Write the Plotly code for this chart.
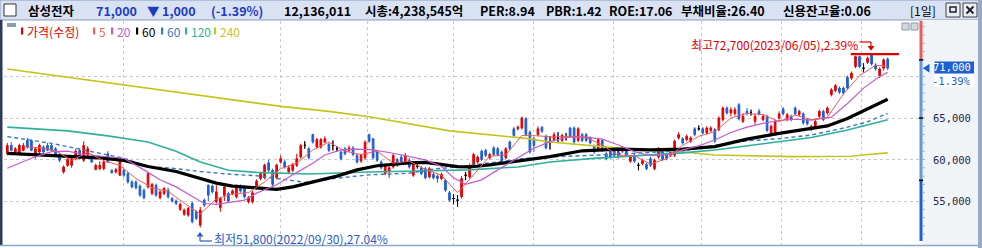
import plotly.graph_objects as go

# ---------------- data ----------------
open_ = [
    60700, 61700, 60900, 60700, 61100, 62300, 62300, 60700, 60900, 61500,
    61700, 61700, 61300, 60600, 58500, 59300, 59300, 60100, 61100, 59900,
    60500, 60300, 58800, 58900, 58900, 60700, 58700, 58500, 58100, 58700,
    58300, 57300, 57300, 56800, 56300, 56700, 55900, 56900, 55400, 55900,
    56300, 55300, 55000, 54000, 53400, 53300, 54700, 53700, 52100, 55100,
    56900, 56800, 54900, 54200, 55700, 55900, 55900, 55500, 56800, 56700,
    54900, 54900, 56600, 57700, 57800, 59600, 58700, 57800, 59700, 59700,
    58500, 58700, 59300, 60300, 61700, 61300, 63000, 61500, 61500, 62100,
    61800, 61700, 61300, 60900, 61300, 61100, 61400, 60500, 59800, 60200,
    63000, 62500, 60900, 59700, 58300, 58500, 59100, 60000, 60300, 59700,
    59900, 58100, 59200, 59000, 58900, 57900, 58200, 58000, 57700, 57500,
    56000, 55300, 55100, 55500, 58100, 57900, 59300, 59700, 61000, 61100,
    60200, 61400, 61300, 60900, 60200, 62100, 63700, 63700, 63800, 64900,
    63300, 62500, 63000, 63900, 62800, 62100, 62400, 62600, 62300, 62700,
    63800, 63800, 62300, 63000, 63000, 62600, 61600, 61300, 62300, 60700,
    61300, 61100, 61100, 61000, 61100, 59800, 60500, 59300, 59500, 59400,
    60100, 58900, 60300, 61100, 60600, 60500, 60500, 62600, 62500, 62400,
    62200, 63700, 63700, 63700, 63200, 63500, 63600, 63600, 64800, 66200,
    65600, 65500, 66600, 64600, 65800, 65600, 64600, 65800, 64800, 65200,
    63200, 63100, 65000, 66100, 64800, 65200, 66200, 65400, 65500, 64800,
    63600, 63900, 65200, 65800, 65600, 67800, 68300, 68600, 68600, 69900,
    69800, 71200, 72400, 71000, 71700, 72600, 71400, 70100, 71000, 72100,
]
high = [
    62000, 62100, 61500, 61900, 62000, 62600, 62400, 61500, 61900, 61700,
    62000, 62000, 61500, 60800, 59300, 60200, 60300, 61300, 61300, 62200,
    61600, 60500, 59500, 59800, 59900, 61000, 58800, 59000, 60100, 58900,
    58500, 57500, 57500, 57000, 56500, 58500, 57200, 57100, 56300, 56700,
    56600, 55500, 55200, 54800, 54100, 54300, 54900, 53900, 54300, 55300,
    57000, 57000, 56900, 55500, 56900, 56100, 56400, 57000, 57000, 56900,
    55600, 56200, 57600, 58500, 59500, 60000, 58900, 59500, 60500, 60000,
    59300, 59600, 60700, 61900, 62200, 61500, 63100, 62600, 62600, 62800,
    62000, 62300, 61600, 61100, 61500, 61700, 61600, 60700, 60700, 62300,
    63100, 62600, 61100, 59900, 59500, 59200, 60700, 60200, 60600, 60800,
    60200, 59700, 59600, 59200, 59100, 59100, 58400, 58200, 58400, 57700,
    56200, 55800, 55700, 58000, 58500, 59500, 60800, 60500, 61200, 61300,
    60800, 61600, 61500, 61100, 61500, 62300, 63900, 64100, 65200, 65100,
    63500, 62700, 64000, 64000, 63000, 62800, 63300, 63300, 63100, 63200,
    63900, 64000, 63900, 63200, 63200, 62800, 61800, 62600, 62500, 60900,
    61500, 61300, 61300, 61600, 61300, 60500, 60700, 59600, 60100, 59600,
    60300, 60100, 61500, 61300, 60800, 61300, 62400, 63300, 62700, 63000,
    62800, 63900, 64100, 63900, 64000, 64000, 63800, 65200, 66400, 66400,
    66300, 66300, 66800, 65600, 66200, 66000, 65500, 66100, 65500, 65400,
    64200, 64800, 65800, 66300, 65600, 65400, 66400, 66000, 65700, 65000,
    64200, 64800, 66000, 66000, 66400, 68600, 69100, 68800, 68800, 70100,
    70600, 72500, 72500, 71600, 72400, 72700, 71600, 71100, 72200, 72300,
]
low = [
    60500, 61000, 60700, 60500, 61000, 61300, 61000, 60100, 60700, 60800,
    61000, 61000, 60300, 59700, 58300, 59100, 59000, 59900, 60000, 59700,
    60300, 59600, 58700, 58700, 58700, 59600, 58300, 58300, 58000, 57900,
    57100, 56500, 56400, 55500, 55200, 56500, 55700, 55500, 55200, 55700,
    55300, 54800, 54500, 53800, 53200, 53100, 52300, 52700, 51800, 54300,
    55000, 55900, 54700, 53700, 55000, 54800, 55700, 55300, 56000, 55300,
    54700, 54700, 56400, 57500, 57600, 58500, 56800, 57600, 59500, 58900,
    58300, 58500, 59100, 60100, 61300, 60000, 61900, 61300, 61300, 62000,
    60900, 61100, 60900, 59900, 60500, 60900, 60400, 59500, 59600, 60000,
    62000, 60000, 59700, 58800, 58100, 57800, 58900, 59100, 59500, 59500,
    58900, 57900, 58900, 58100, 57600, 57700, 57600, 57200, 57500, 56100,
    54900, 54600, 54300, 55300, 57500, 57700, 59100, 59500, 59800, 60300,
    60000, 60400, 60400, 59500, 60000, 61100, 62700, 63500, 63600, 62800,
    60700, 60900, 62800, 63200, 61200, 61200, 62200, 62100, 62100, 62300,
    62600, 61900, 62100, 62100, 62100, 61800, 60700, 61100, 60900, 59900,
    60100, 60300, 60100, 60800, 60300, 59600, 59600, 58700, 59300, 58700,
    59100, 58700, 60100, 59800, 59900, 60300, 60300, 62400, 61800, 62200,
    62000, 62800, 63500, 63000, 63000, 63300, 62000, 63400, 64600, 65400,
    65200, 65300, 64700, 64400, 65300, 65300, 64200, 65300, 64600, 63300,
    63000, 62900, 64800, 65300, 64600, 64600, 65300, 65200, 64200, 64100,
    63400, 63700, 65000, 64600, 65400, 67600, 68100, 67900, 67800, 68400,
    69600, 71000, 71000, 70500, 71500, 71300, 70700, 69800, 70700, 70800,
]
close = [
    61700, 61100, 61300, 61700, 61700, 61500, 61100, 61300, 61700, 60900,
    61100, 61100, 60500, 59900, 59100, 60000, 60100, 61000, 60100, 61700,
    61300, 59700, 59300, 59300, 59700, 59700, 58400, 58800, 59800, 58100,
    57300, 56700, 56600, 55700, 55400, 58300, 57000, 55700, 56100, 56500,
    55500, 55000, 54700, 54600, 53900, 54100, 52500, 52900, 53900, 54500,
    55700, 56100, 56100, 55300, 56700, 55000, 56200, 56800, 56200, 55500,
    55400, 56000, 57400, 58300, 59300, 58700, 57000, 59300, 60100, 59100,
    59000, 59400, 60100, 61700, 61700, 60200, 62100, 62400, 62400, 62500,
    61100, 61700, 61300, 60100, 60700, 61400, 60600, 59700, 60500, 62100,
    62200, 60200, 59900, 59000, 59300, 59000, 60500, 59300, 59700, 60500,
    59100, 59500, 59200, 58300, 57800, 58900, 57800, 57700, 58200, 56300,
    55100, 55300, 55100, 57700, 58100, 59300, 60600, 60300, 60000, 60500,
    60600, 60600, 60600, 59700, 61300, 61300, 62900, 63900, 65000, 63000,
    60900, 61700, 63700, 63400, 61400, 62100, 63000, 62600, 62900, 62700,
    62800, 62100, 63700, 62300, 62300, 62000, 60900, 62400, 61100, 60100,
    60300, 60500, 60300, 61400, 60500, 60300, 59800, 59300, 59900, 58900,
    59300, 59900, 61300, 60000, 60100, 61100, 62200, 63000, 62000, 62800,
    62600, 63000, 63700, 63200, 63800, 63800, 62200, 65000, 66200, 65600,
    66000, 66000, 64900, 65200, 65600, 65600, 65200, 65500, 65200, 63500,
    64000, 64600, 65500, 65500, 65400, 64800, 65500, 65800, 64400, 64300,
    64000, 64600, 65800, 64800, 66200, 68400, 68900, 68100, 68000, 68600,
    70400, 72400, 71200, 71000, 72200, 71500, 70900, 70900, 72000, 71000,
]

# moving averages, read at sample candles
ma5_idx = [4, 8, 12, 16, 20, 24, 28, 32, 36, 40, 44, 48, 52, 56, 60, 64, 68, 72, 76, 80,
           84, 88, 92, 96, 100, 104, 108, 112, 116, 120, 124, 128, 132, 136, 140, 144, 148,
           152, 156, 160, 164, 168, 172, 176, 180, 184, 188, 192, 196, 200, 204, 208, 212, 216, 219]
ma5_val = [61500, 61450, 61050, 59900, 60850, 59850, 59300, 57700, 56600, 56150, 54750, 53450,
           55250, 55850, 56000, 57300, 58900, 59550, 61150, 62100, 61000, 60600, 61000, 59550,
           59800, 58800, 58100, 56000, 58150, 60400, 60550, 62900, 62850, 62700, 62800, 62650,
           61750, 60450, 60450, 59450, 60100, 61700, 62800, 63350, 65000, 65550, 65400, 64550,
           65350, 64800, 65100, 67900, 70100, 71350, 71250]
ma20_idx = [0, 6, 11, 15, 19, 23, 29, 34, 38, 42, 46, 49, 52, 56, 59, 62, 67, 71, 76, 79,
            83, 87, 91, 96, 100, 104, 108, 111, 114, 118, 122, 127, 131, 135, 139, 143, 148,
            152, 156, 160, 164, 168, 172, 176, 180, 184, 188, 192, 196, 200, 205, 209, 213, 217, 219]
ma20_val = [58950, 60150, 60950, 61000, 60600, 60450, 60150, 58750, 57550, 56700, 55500, 54700,
            54600, 54900, 55100, 55950, 56950, 58150, 59550, 60550, 61150, 61250, 61150, 60750,
            60350, 59950, 59150, 57800, 57000, 57550, 58750, 60150, 61350, 62150, 62650, 62750,
            62450, 61750, 60950, 60450, 60550, 61150, 61650, 62350, 63250, 63900, 64350, 64700,
            64850, 64750, 65100, 66750, 68600, 70000, 70500]
ma60_idx = [0, 6, 15, 23, 29, 35, 42, 48, 52, 56, 62, 67, 71, 76, 82, 87, 92, 100, 104, 112,
            115, 120, 127, 135, 143, 152, 160, 168, 176, 184, 192, 200, 204, 209, 214, 219]
ma60_val = [60750, 60600, 60450, 60200, 59900, 59150, 58550, 57750, 57150, 56800, 56550, 56400,
            56700, 57250, 58000, 58750, 59250, 59600, 59650, 59150, 59100, 59350, 59800, 60350,
            61050, 61250, 61150, 61250, 61550, 62450, 63150, 63750, 64050, 64950, 66150, 67250]
ma60d_idx = [0, 11, 15, 29, 35, 41, 48, 56, 62, 71, 74, 82, 90, 100, 106, 112, 118, 129, 137,
             148, 168, 176, 184, 192, 200, 209, 214, 219]
ma60d_val = [62750, 61950, 61550, 60150, 59150, 58950, 58550, 58200, 58050, 57400, 57250, 57750,
             58150, 58350, 58850, 59100, 59500, 60150, 60350, 60550, 61050, 61700, 62250, 62500,
             62950, 63900, 64550, 65550]
ma120_idx = [0, 15, 25, 35, 42, 48, 55, 62, 75, 90, 105, 115, 127, 135, 145, 155, 168, 176,
             185, 192, 200, 209, 214, 219]
ma120_val = [63900, 63450, 62850, 62100, 61000, 59700, 58700, 58450, 58250, 58500, 58650, 58750,
             59100, 59700, 60100, 60400, 60800, 61150, 61700, 62100, 62650, 63550, 64150, 64800]
ma240_idx = [0, 29, 68, 80, 90, 110, 129, 135, 145, 155, 168, 176, 195, 210, 214, 219]
ma240_val = [70900, 69000, 66400, 65800, 65150, 63450, 62550, 62100, 61650, 61250, 60900, 60550,
             60350, 60400, 60600, 60800]

price_grid = [55000, 60000, 65000, 70000]
price_labels = [55000, 60000, 65000]
month_grid = [28.8, 67.9, 89.7, 110.9, 130.8, 150.7, 172.8, 192.7, 212.6]
prev_close = 72000
bar_marks = [72000, 65000, 57500]

header_items = [
    ("삼성전자", 27, "#000000"),
    ("71,000", 95, "#1c3bbf"),
    ("▼", 146, "#1c3bbf"),
    ("1,000", 161, "#1c3bbf"),
    ("(-1.39%)", 210, "#1c3bbf"),
    ("12,136,011", 283, "#000000"),
    ("시총:4,238,545억", 364, "#000000"),
    ("PER:8.94", 479, "#000000"),
    ("PBR:1.42", 545, "#000000"),
    ("ROE:17.06", 608, "#000000"),
    ("부채비율:26.40", 680, "#000000"),
    ("신용잔고율:0.06", 782, "#000000"),
]
legend_items = [
    ("가격(수정)", "#e00000"),
    ("5", "#ee6464"),
    ("20", "#c45cd0"),
    ("60", "#000000"),
    ("60", "#3c78c0"),
    ("120", "#30b09c"),
    ("240", "#c4c428"),
]
legend_x = [21, 93, 111, 136, 161, 185, 214]

# ---------------- geometry ----------------
W, H = 982, 248
X0_PX, DX_PX = 7.3, 4.02
PLOT_L, PLOT_R, PLOT_T, PLOT_B = 4, 919, 21, 245
Y_REF_PX, Y_REF_P, PX_PER_1000 = 118, 65000, 8.3
FONT = "Noto Sans CJK KR"
MONO = "DejaVu Sans Mono"
RED = "#e60000"
BLUE = "#1e5fd2"


def px(v):
    return v / W


def py(v):
    return 1 - v / H


def p_at(ypx):
    return Y_REF_P + (Y_REF_PX - ypx) / PX_PER_1000 * 1000


def dp(npx):
    return npx / PX_PER_1000 * 1000


xr = [(PLOT_L - X0_PX) / DX_PX, (PLOT_R - X0_PX) / DX_PX]
yr = [p_at(PLOT_B), p_at(PLOT_T)]
x = list(range(len(close)))

fig = go.Figure()


def ma_line(idx, val, color, width, dash="solid"):
    fig.add_trace(go.Scatter(x=idx, y=val, mode="lines", hoverinfo="skip", showlegend=False,
                             line=dict(color=color, width=width, dash=dash)))


ma_line(ma240_idx, ma240_val, "#c4c41e", 1.6)
ma_line(ma120_idx, ma120_val, "#30b09c", 1.6)
ma_line(ma60d_idx, ma60d_val, "#3c78c0", 1.4, "4px,3px")
ma_line(ma60_idx, ma60_val, "#000000", 3.2)
ma_line(ma20_idx, ma20_val, "#c45cd0", 1.2)
ma_line(ma5_idx, ma5_val, "#ee5a5a", 1.0)

fig.add_trace(go.Candlestick(
    x=x, open=open_, high=high, low=low, close=close,
    increasing=dict(line=dict(color=RED, width=1), fillcolor=RED),
    decreasing=dict(line=dict(color=BLUE, width=1), fillcolor=BLUE),
    whiskerwidth=0, hoverinfo="skip", showlegend=False))

doji = [i for i in x if open_[i] == close[i]]
fig.add_trace(go.Candlestick(
    x=doji, open=[open_[i] for i in doji], high=[high[i] for i in doji],
    low=[low[i] for i in doji], close=[close[i] for i in doji],
    increasing=dict(line=dict(color="#000000", width=1), fillcolor="#000000"),
    decreasing=dict(line=dict(color="#000000", width=1), fillcolor="#000000"),
    whiskerwidth=0, hoverinfo="skip", showlegend=False))

shapes = []
ann = []


def rect(x0, y0, x1, y1, fill, line=None, lw=0, layer="below"):
    shapes.append(dict(type="rect", xref="paper", yref="paper", x0=px(x0), x1=px(x1),
                       y0=py(y1), y1=py(y0), fillcolor=fill, layer=layer,
                       line=dict(color=line or fill, width=lw)))


def seg(x0, y0, x1, y1, color, w=1, layer="above"):
    shapes.append(dict(type="line", xref="paper", yref="paper", x0=px(x0), x1=px(x1),
                       y0=py(y0), y1=py(y1), layer=layer, line=dict(color=color, width=w)))


def text(t, x0, y0, color, size=12, anchor="left", bold=False, family=FONT):
    ann.append(dict(text=f"<b>{t}</b>" if bold else t, x=px(x0), y=py(y0), xref="paper",
                    yref="paper", xanchor=anchor, yanchor="middle", showarrow=False,
                    font=dict(family=family, size=size, color=color), borderpad=0))


# frame / panels
rect(0, 0, W, 20, "#d9e2f3", "#8b9bbd", 1)
rect(922, 20, 978, 246, "#f1f4f7")
rect(978, 0, W, H, "#9aa9c6")
rect(0, 20, 2.5, 246, "#2d3a5c")
rect(0, 245, 978, H, "#ffffff")
seg(0, 245.5, 978, 245.5, "#8fa6c6", 1.5)
rect(4, 4, 16, 16, "#ffffff", "#333333", 1, "above")

# header texts
for t, hx, c in header_items:
    text(t, hx, 11, c, 12.5, bold=True)
text("[1일]", 909, 11, "#000000", 12)
rect(946, 3, 960, 17, "#e9edf5", "#444444", 1, "above")
rect(950, 7, 956, 12, "#e9edf5", "#222222", 1.5, "above")
rect(963, 3, 977, 17, "#e9edf5", "#444444", 1, "above")
seg(966.5, 6.5, 973.5, 13.5, "#222222", 2)
seg(966.5, 13.5, 973.5, 6.5, "#222222", 2)

# legend row
rect(7, 23, 16, 27, "#8a9ab4", layer="above")
for (t, c), lx in zip(legend_items, legend_x):
    rect(lx, 27.5, lx + 2.2, 34.5, c, layer="above")
    text(t, lx + 4.5, 31, c, 12)

# small panel buttons
rect(902, 23, 909, 30, "#d4d8e0", "#9098a8", 1, "above")
rect(911, 23, 918, 30, "#d4d8e0", "#9098a8", 1, "above")

# right price axis strip
shapes.append(dict(type="rect", xref="paper", yref="y", x0=px(919.5), x1=px(922.5),
                   y0=prev_close, y1=yr[1], fillcolor="#f05a5a", line=dict(width=0), layer="above"))
shapes.append(dict(type="rect", xref="paper", yref="y", x0=px(919.5), x1=px(922.5),
                   y0=bar_marks[2], y1=prev_close, fillcolor="#6797e0", line=dict(width=0), layer="above"))
shapes.append(dict(type="rect", xref="paper", yref="y", x0=px(919.5), x1=px(922.5),
                   y0=p_at(241), y1=bar_marks[2], fillcolor="#1f5fd0", line=dict(width=0), layer="above"))
for k in range(51, 77):
    shapes.append(dict(type="line", xref="paper", yref="y", x0=px(922.5), x1=px(924.5),
                       y0=k * 1000, y1=k * 1000, line=dict(color="#7fa0d8", width=1), layer="above"))
for m in bar_marks:
    shapes.append(dict(type="line", xref="paper", yref="y", x0=px(919), x1=px(923),
                       y0=m, y1=m, line=dict(color="#000000", width=1.5), layer="above"))

for p in price_labels:
    ann.append(dict(text=f"{p:,}", x=px(973), y=p, xref="paper", yref="y", xanchor="right",
                    yanchor="middle", showarrow=False,
                    font=dict(family=MONO, size=10.5, color="#1b2a55")))

# current price marker
last = close[-1]
shapes.append(dict(type="path", xref="paper", yref="y",
                   path=f"M {px(923)},{last} L {px(929.5)},{last + dp(4.5)} L {px(929.5)},{last - dp(4.5)} Z",
                   fillcolor="#1f5fd0", line=dict(width=0), layer="above"))
shapes.append(dict(type="rect", xref="paper", yref="y", x0=px(934.5), x1=px(974),
                   y0=last - dp(5.2), y1=last + dp(6.8), fillcolor="#1f5fd0", line=dict(width=0),
                   layer="above"))
ann.append(dict(text=f"{last:,}", x=px(973), y=last + dp(0.8), xref="paper", yref="y",
                xanchor="right", yanchor="middle", showarrow=False,
                font=dict(family=MONO, size=10.5, color="#ffffff")))
shapes.append(dict(type="rect", xref="paper", yref="y", x0=px(934.5), x1=px(974),
                   y0=last - dp(18.5), y1=last - dp(5.8), fillcolor="#ffffff", line=dict(width=0),
                   layer="above"))
chg = (last - prev_close) / prev_close * 100
ann.append(dict(text=f"{chg:.2f}%", x=px(973), y=last - dp(12.5), xref="paper", yref="y",
                xanchor="right", yanchor="middle", showarrow=False,
                font=dict(family=MONO, size=10.5, color="#1f5fd0")))

# high / low markers
hi_i = max(x, key=lambda i: high[i])
lo_i = min(x, key=lambda i: low[i])
hi_v, lo_v = high[hi_i], low[lo_i]
shapes.append(dict(type="line", xref="x", yref="y", x0=hi_i - 5.2, x1=hi_i + 6.8, y0=hi_v, y1=hi_v,
                   line=dict(color="#e00000", width=2.2), layer="above"))
text(f"최고{hi_v:,}(2023/06/05),{(hi_v - last) / last * 100:.2f}%", 690, 45, "#e00000", 12)
seg(859.5, 42, 871, 42, "#e00000", 1.2)
seg(871, 42, 871, 50, "#e00000", 1.2)
shapes.append(dict(type="path", xref="paper", yref="paper",
                   path=f"M {px(867.5)},{py(46)} L {px(874.5)},{py(46)} L {px(871)},{py(50.5)} Z",
                   fillcolor="#e00000", line=dict(width=0), layer="above"))

text(f"최저{lo_v:,}(2022/09/30),{(last - lo_v) / last * 100:.2f}%", 213, 238.5, "#2a5cc8", 12)
seg(200, 234, 200, 241, "#2a5cc8", 1.2)
seg(200, 241, 212, 241, "#2a5cc8", 1.2)
shapes.append(dict(type="path", xref="paper", yref="paper",
                   path=f"M {px(196.5)},{py(236.5)} L {px(203.5)},{py(236.5)} L {px(200)},{py(232)} Z",
                   fillcolor="#2a5cc8", line=dict(width=0), layer="above"))

fig.update_layout(
    width=W, height=H, margin=dict(l=0, r=0, t=0, b=0),
    paper_bgcolor="#ffffff", plot_bgcolor="rgba(0,0,0,0)",
    boxgap=0.4, showlegend=False, shapes=shapes, annotations=ann,
    xaxis=dict(domain=[px(PLOT_L), px(PLOT_R)], range=xr, rangeslider=dict(visible=False),
               tickvals=month_grid, showticklabels=False, ticks="", showgrid=True,
               gridcolor="#c9c9c9", griddash="dot", gridwidth=1, zeroline=False, showline=False,
               fixedrange=True),
    yaxis=dict(domain=[1 - PLOT_B / H, 1 - PLOT_T / H], range=yr, tickvals=price_grid,
               showticklabels=False, ticks="", showgrid=True, gridcolor="#c9c9c9",
               griddash="dot", gridwidth=1, zeroline=False, showline=False, fixedrange=True),
)

fig.write_html("out.html")
